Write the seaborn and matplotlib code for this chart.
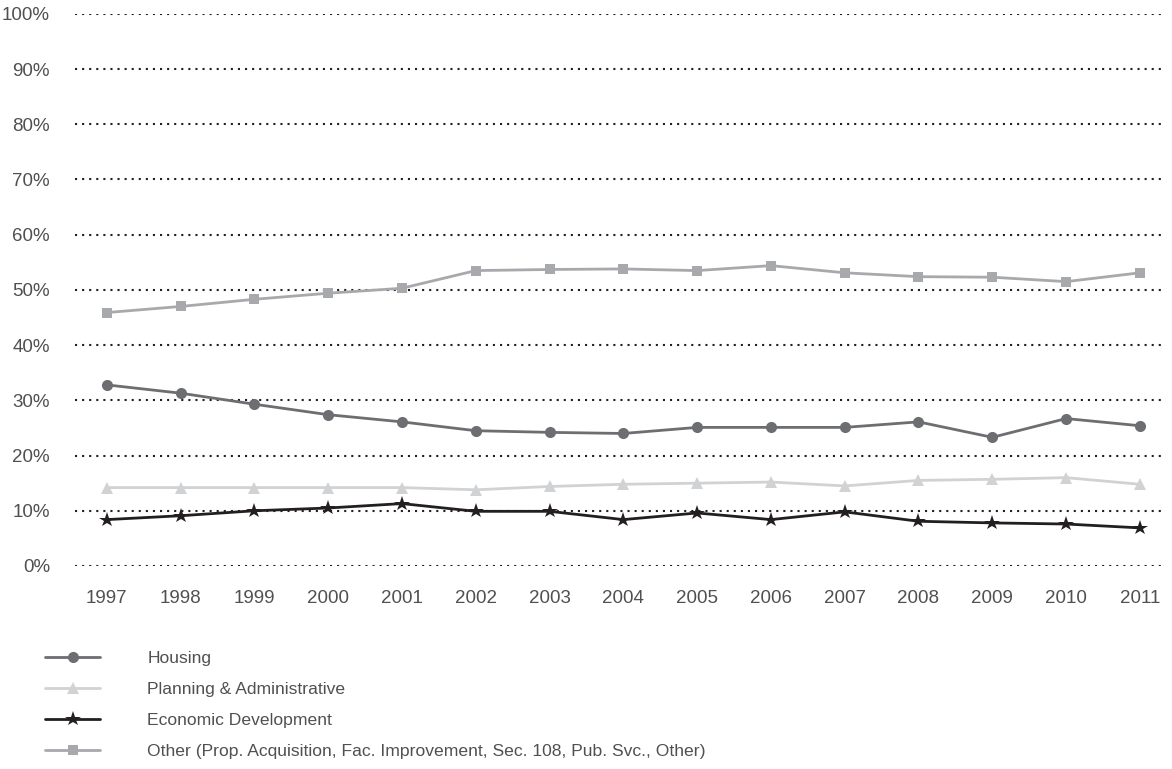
import matplotlib
matplotlib.use("Agg")
import matplotlib.pyplot as plt
import seaborn as sns
import pandas as pd
from matplotlib.ticker import FuncFormatter

years = list(range(1997, 2012))

housing = [32.8, 31.3, 29.3, 27.4, 26.1, 24.5, 24.2, 24.0, 25.1, 25.1, 25.1, 26.1, 23.3, 26.7, 25.4]
planning = [14.2, 14.2, 14.2, 14.2, 14.2, 13.8, 14.4, 14.8, 15.0, 15.2, 14.5, 15.5, 15.7, 16.0, 14.8]
economic = [8.4, 9.1, 10.0, 10.5, 11.3, 9.9, 9.9, 8.4, 9.6, 8.4, 9.8, 8.1, 7.8, 7.6, 6.9]
other = [45.9, 47.0, 48.3, 49.4, 50.3, 53.5, 53.7, 53.8, 53.5, 54.4, 53.1, 52.4, 52.3, 51.5, 53.1]

series_names = [
    "Housing",
    "Planning & Administrative",
    "Economic Development",
    "Other (Prop. Acquisition, Fac. Improvement, Sec. 108, Pub. Svc., Other)",
]
series_values = [housing, planning, economic, other]
y_ticks = [0, 10, 20, 30, 40, 50, 60, 70, 80, 90, 100]

colors = ["#6d6e71", "#d1d2d4", "#231f20", "#a7a9ac"]
markers = ["o", "^", "*", "s"]
msizes = [8, 8, 11.5, 7.5]
text_color = "#505052"

df = pd.concat(
    [pd.DataFrame({"year": years, "pct": vals, "series": name})
     for name, vals in zip(series_names, series_values)],
    ignore_index=True,
)

sns.set_theme(style="white")
plt.rcParams["font.family"] = ["Liberation Sans", "DejaVu Sans"]

fig = plt.figure(figsize=(11.72, 7.69), dpi=100)
ax = fig.add_axes([0.064, 0.264, 0.93, 0.718])

for name, col, mk, ms in zip(series_names, colors, markers, msizes):
    sns.lineplot(
        data=df[df["series"] == name], x="year", y="pct", ax=ax,
        color=col, marker=mk, markersize=ms, markeredgewidth=0,
        linewidth=2.0, label=name, zorder=3,
    )

for t in y_ticks:
    ax.axhline(t, color="#231f20", linestyle=(0, (1, 2.4)), linewidth=1.5, zorder=1)

ax.set_ylim(0, 100)
ax.set_xlim(1996.57, 2011.34)
ax.set_yticks(y_ticks)
ax.yaxis.set_major_formatter(FuncFormatter(lambda v, p: f"{int(v)}%"))
ax.set_xticks(years)
ax.set_xticklabels([str(y) for y in years])
ax.tick_params(axis="both", length=0, labelsize=13.5, labelcolor=text_color)
ax.tick_params(axis="y", pad=18)
ax.tick_params(axis="x", pad=17)
ax.set_xlabel("")
ax.set_ylabel("")
for s in ax.spines.values():
    s.set_visible(False)

handles, labels = ax.get_legend_handles_labels()
ax.legend_.remove()
fig.legend(
    handles, labels, loc="upper left", bbox_to_anchor=(0.0324, 0.1625),
    frameon=False, fontsize=12.6, handlelength=3.15, handletextpad=2.7,
    labelspacing=0.9, labelcolor=text_color, borderaxespad=0,
)

fig.savefig("out.png", dpi=100, facecolor="white")
